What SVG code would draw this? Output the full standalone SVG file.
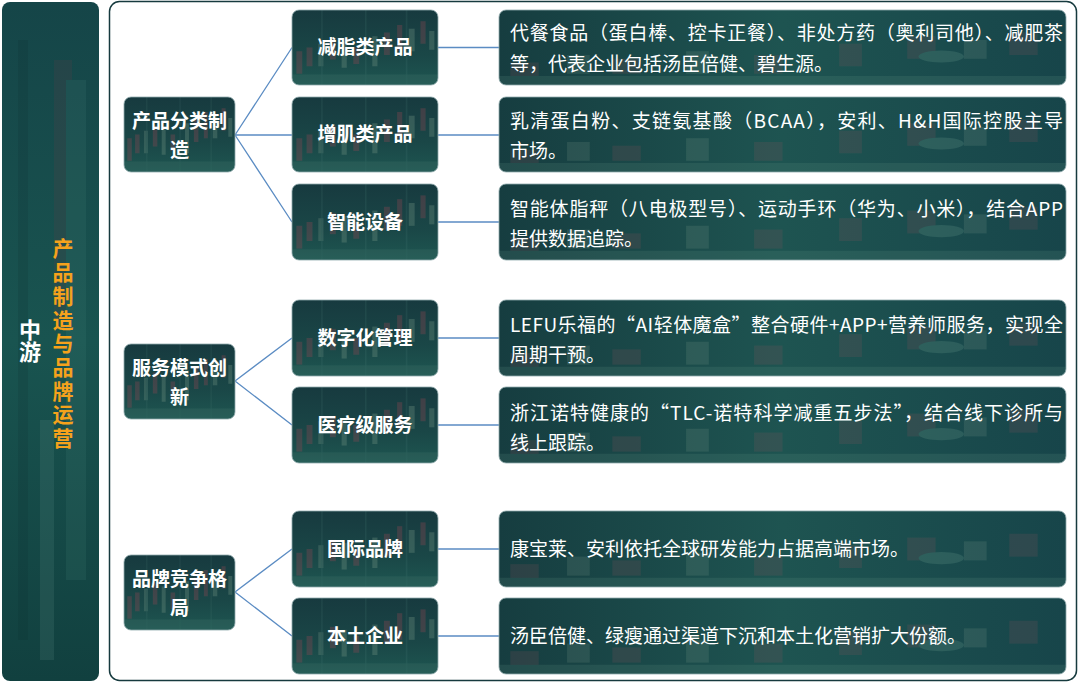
<svg xmlns="http://www.w3.org/2000/svg" width="1080" height="683" viewBox="0 0 1080 683">
<style>
.t2{font-family:"Noto Sans CJK SC","Noto Sans",sans-serif;font-weight:700;font-size:19px;fill:#ffffff;text-anchor:middle}
.t3{font-family:"Noto Sans CJK SC","Noto Sans",sans-serif;font-weight:400;font-size:19px;fill:#ffffff}
.vt{font-family:"Noto Sans CJK SC","Noto Sans",sans-serif;font-weight:700;writing-mode:vertical-rl;text-orientation:upright}
.nb{fill:url(#nodeFill);stroke:#8fa9ac;stroke-width:0.8}
.wb{fill:url(#wideFill);stroke:#8fa9ac;stroke-width:0.8}
.cn{stroke:#5b8cc3;stroke-width:1.3;fill:none}
</style>
<defs>
<linearGradient id="nodeBase" x1="0" y1="0" x2="0" y2="1">
<stop offset="0" stop-color="#173a3f"/>
<stop offset="0.6" stop-color="#1a4747"/>
<stop offset="1" stop-color="#1e5651"/>
</linearGradient>
<linearGradient id="wideBase" x1="0" y1="0" x2="1" y2="0">
<stop offset="0" stop-color="#163d40"/>
<stop offset="0.5" stop-color="#1e5451"/>
<stop offset="1" stop-color="#17454a"/>
</linearGradient>
<pattern id="nodeFill" patternUnits="objectBoundingBox" patternContentUnits="objectBoundingBox" width="1" height="1">
<rect width="1" height="1" fill="url(#nodeBase)"/>
<g opacity="0.3">
<rect x="0.03" y="0.55" width="0.04" height="0.3" fill="#9a4552"/>
<rect x="0.1" y="0.5" width="0.04" height="0.25" fill="#9a4552"/>
<rect x="0.18" y="0.45" width="0.035" height="0.3" fill="#6f8f80"/>
<rect x="0.26" y="0.38" width="0.04" height="0.28" fill="#9a4552"/>
<rect x="0.34" y="0.42" width="0.035" height="0.35" fill="#7a9a88"/>
<rect x="0.42" y="0.5" width="0.04" height="0.22" fill="#9a4552"/>
<rect x="0.55" y="0.35" width="0.035" height="0.4" fill="#7a9a88"/>
<rect x="0.63" y="0.3" width="0.04" height="0.3" fill="#9a4552"/>
<rect x="0.72" y="0.2" width="0.035" height="0.35" fill="#9a4552"/>
<rect x="0.8" y="0.25" width="0.04" height="0.3" fill="#7a9a88"/>
<rect x="0.88" y="0.15" width="0.035" height="0.3" fill="#9a4552"/>
<rect x="0.94" y="0.28" width="0.035" height="0.25" fill="#7a9a88"/>
<rect x="0" y="0.86" width="1" height="0.14" fill="#5a8a7a" opacity="0.5"/>
<rect x="0.2" y="0" width="0.01" height="1" fill="#4b7f78" opacity="0.5"/>
<rect x="0.5" y="0" width="0.01" height="1" fill="#4b7f78" opacity="0.5"/>
<rect x="0.78" y="0" width="0.01" height="1" fill="#4b7f78" opacity="0.5"/>
</g>
</pattern>
<pattern id="wideFill" patternUnits="objectBoundingBox" patternContentUnits="objectBoundingBox" width="1" height="1">
<rect width="1" height="1" fill="url(#wideBase)"/>
<g opacity="0.16">
<rect x="0.02" y="0.7" width="0.05" height="0.22" fill="#a0505a"/>
<rect x="0.12" y="0.6" width="0.04" height="0.25" fill="#8aa890"/>
<rect x="0.2" y="0.65" width="0.05" height="0.2" fill="#a0505a"/>
<rect x="0.33" y="0.55" width="0.04" height="0.3" fill="#8aa890"/>
<rect x="0.45" y="0.6" width="0.05" height="0.25" fill="#a0505a"/>
<rect x="0.6" y="0.45" width="0.04" height="0.3" fill="#a0505a"/>
<rect x="0.72" y="0.35" width="0.05" height="0.3" fill="#a0505a"/>
<rect x="0.82" y="0.4" width="0.04" height="0.25" fill="#8aa890"/>
<rect x="0.9" y="0.3" width="0.05" height="0.3" fill="#a0505a"/>
<rect x="0" y="0.88" width="1" height="0.12" fill="#6a9a88"/>
<ellipse cx="0.78" cy="0.62" rx="0.04" ry="0.08" fill="#8ac0a8"/>
</g>
</pattern>
<linearGradient id="leftBase" x1="0" y1="0" x2="0" y2="1">
<stop offset="0" stop-color="#154548"/>
<stop offset="0.5" stop-color="#195450"/>
<stop offset="1" stop-color="#11403f"/>
</linearGradient>
</defs>

<g id="left-panel">
<rect x="2" y="2" width="97" height="679" rx="8" fill="url(#leftBase)"/>
<g opacity="0.15">
<rect x="18" y="40" width="10" height="600" fill="#0b2a2d"/>
<rect x="54" y="60" width="18" height="260" fill="#7a3a45"/>
<rect x="66" y="80" width="20" height="500" fill="#4c8a80"/>
<rect x="40" y="420" width="14" height="240" fill="#6fa098"/>
</g>
<text class="vt" x="30" y="319" style="font-size:22px;fill:#ffffff">中游</text>
<text class="vt" x="63" y="238" style="font-size:21px;fill:#f5a21c;letter-spacing:2.7px">产品制造与品牌运营</text>
</g>

<g id="frame">
<rect x="109.5" y="1.5" width="967" height="679" rx="10" fill="#ffffff" stroke="#163a3e" stroke-width="1.5"/>
</g>

<g id="connectors">
<path class="cn" d="M235 135 L292 47.5 M235 135 L292 135 M235 135 L292 222"/>
<path class="cn" d="M235 381 L292 338 M235 381 L292 425"/>
<path class="cn" d="M235 592 L292 549 M235 592 L292 636"/>
<path class="cn" d="M438 47.5 H499 M438 135 H499 M438 222 H499 M438 338 H499 M438 425 H499 M438 549 H499 M438 636 H499"/>
</g>

<g id="n-product">
<rect class="nb" x="124" y="97" width="111" height="75" rx="7"/>
<text class="t2" x="179.5" y="128">产品分类制</text>
<text class="t2" x="179.5" y="157">造</text>
</g>
<g id="n-service">
<rect class="nb" x="124" y="344" width="111" height="75" rx="7"/>
<text class="t2" x="179.5" y="375">服务模式创</text>
<text class="t2" x="179.5" y="404">新</text>
</g>
<g id="n-brand">
<rect class="nb" x="124" y="555" width="111" height="75" rx="7"/>
<text class="t2" x="179.5" y="586">品牌竞争格</text>
<text class="t2" x="179.5" y="615">局</text>
</g>

<g id="n-fat">
<rect class="nb" x="292" y="10" width="146" height="75" rx="7"/>
<text class="t2" x="365" y="54">减脂类产品</text>
</g>
<g id="n-muscle">
<rect class="nb" x="292" y="97" width="146" height="75" rx="7"/>
<text class="t2" x="365" y="141">增肌类产品</text>
</g>
<g id="n-smart">
<rect class="nb" x="292" y="184" width="146" height="76" rx="7"/>
<text class="t2" x="365" y="229">智能设备</text>
</g>
<g id="n-digital">
<rect class="nb" x="292" y="300" width="146" height="76" rx="7"/>
<text class="t2" x="365" y="345">数字化管理</text>
</g>
<g id="n-medical">
<rect class="nb" x="292" y="387" width="146" height="76" rx="7"/>
<text class="t2" x="365" y="432">医疗级服务</text>
</g>
<g id="n-intl">
<rect class="nb" x="292" y="511" width="146" height="76" rx="7"/>
<text class="t2" x="365" y="556">国际品牌</text>
</g>
<g id="n-local">
<rect class="nb" x="292" y="598" width="146" height="76" rx="7"/>
<text class="t2" x="365" y="643">本土企业</text>
</g>

<g id="d-fat">
<rect class="wb" x="499" y="10" width="567" height="75" rx="7"/>
<text class="t3" x="510" y="40" textLength="553" lengthAdjust="spacing">代餐食品（蛋白棒、控卡正餐）、非处方药（奥利司他）、减肥茶</text>
<text class="t3" x="510" y="71">等，代表企业包括汤臣倍健、碧生源。</text>
</g>
<g id="d-muscle">
<rect class="wb" x="499" y="97" width="567" height="75" rx="7"/>
<text class="t3" x="510" y="128" textLength="553" lengthAdjust="spacing">乳清蛋白粉、支链氨基酸（BCAA），安利、H&amp;H国际控股主导</text>
<text class="t3" x="510" y="158">市场。</text>
</g>
<g id="d-smart">
<rect class="wb" x="499" y="184" width="567" height="76" rx="7"/>
<text class="t3" x="510" y="216" textLength="553" lengthAdjust="spacing">智能体脂秤（八电极型号）、运动手环（华为、小米），结合APP</text>
<text class="t3" x="510" y="246">提供数据追踪。</text>
</g>
<g id="d-digital">
<rect class="wb" x="499" y="300" width="567" height="76" rx="7"/>
<text class="t3" x="510" y="332" textLength="553" lengthAdjust="spacing">LEFU乐福的“AI轻体魔盒”整合硬件+APP+营养师服务，实现全</text>
<text class="t3" x="510" y="362">周期干预。</text>
</g>
<g id="d-medical">
<rect class="wb" x="499" y="387" width="567" height="76" rx="7"/>
<text class="t3" x="510" y="420" textLength="553" lengthAdjust="spacing">浙江诺特健康的“TLC-诺特科学减重五步法”，结合线下诊所与</text>
<text class="t3" x="510" y="450">线上跟踪。</text>
</g>
<g id="d-intl">
<rect class="wb" x="499" y="511" width="567" height="76" rx="7"/>
<text class="t3" x="510" y="556">康宝莱、安利依托全球研发能力占据高端市场。</text>
</g>
<g id="d-local">
<rect class="wb" x="499" y="598" width="567" height="76" rx="7"/>
<text class="t3" x="510" y="643">汤臣倍健、绿瘦通过渠道下沉和本土化营销扩大份额。</text>
</g>
</svg>
